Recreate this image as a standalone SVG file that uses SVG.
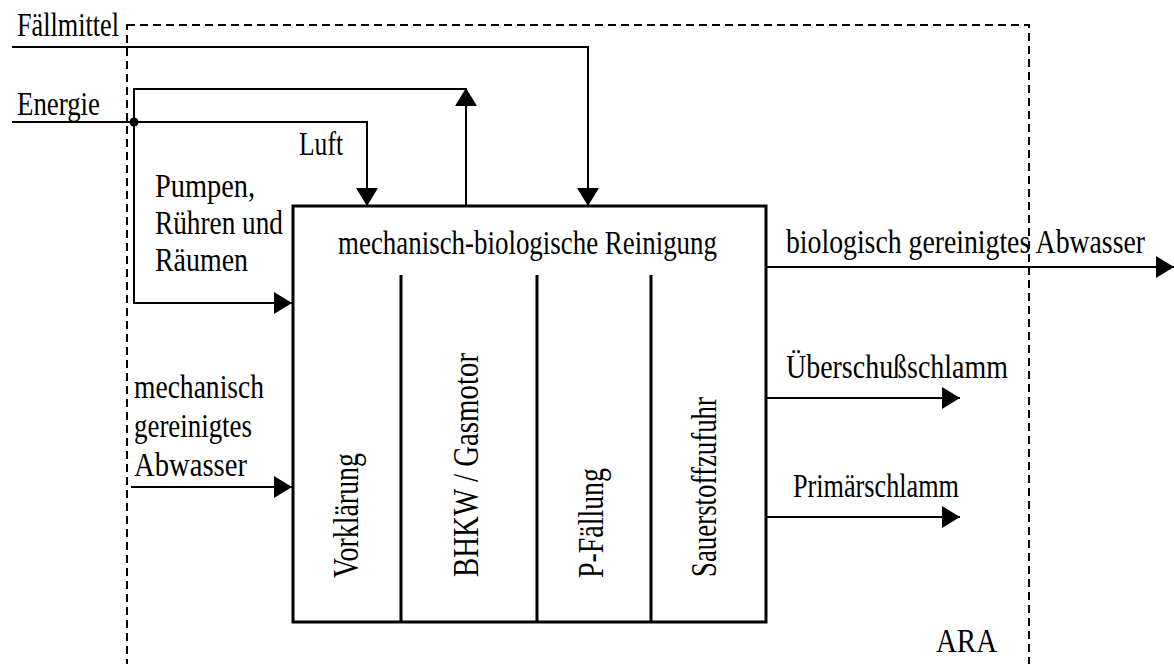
<svg xmlns="http://www.w3.org/2000/svg" width="1174" height="664" viewBox="0 0 1174 664">
  <style>
    text { font-family: "Liberation Serif", "DejaVu Serif", serif; fill: #000; }
    .lbl { font-size: 33px; }
    .vlbl { font-size: 35px; }
    .wire { fill: none; stroke: #000; stroke-width: 2; }
    .flow { fill: none; stroke: #000; stroke-width: 2; marker-end: url(#arrow); }
    .frame { fill: none; stroke: #000; stroke-width: 2; stroke-dasharray: 8 5; }
    .box { fill: #fff; stroke: #000; stroke-width: 3; }
    .div { stroke: #000; stroke-width: 3; }
  </style>
  <defs>
    <marker id="arrow" markerUnits="userSpaceOnUse" markerWidth="20" markerHeight="22" refX="18" refY="11" orient="auto">
      <path d="M0,0 L18,11 L0,22 Z" fill="#000"/>
    </marker>
  </defs>
  <rect width="1174" height="664" fill="#fff"/>

  <!-- system boundary ARA -->
  <g id="ara" font-family="Liberation Serif, serif">
    <rect class="frame" x="127" y="25" width="902" height="680"/>
    <text class="lbl" x="936" y="652" textLength="61" lengthAdjust="spacingAndGlyphs">ARA</text>
  </g>

  <!-- main treatment block -->
  <g id="reinigung" font-family="Liberation Serif, serif">
    <rect class="box" x="293" y="206" width="473" height="416"/>
    <text class="lbl" x="338" y="254" textLength="379" lengthAdjust="spacingAndGlyphs">mechanisch-biologische Reinigung</text>
    <line class="div" x1="401" y1="275" x2="401" y2="622"/>
    <line class="div" x1="537" y1="275" x2="537" y2="622"/>
    <line class="div" x1="651" y1="275" x2="651" y2="622"/>
  </g>
  <g id="vorklaerung" font-family="Liberation Serif, serif">
    <text class="vlbl" transform="translate(358,578) rotate(-90)" textLength="125" lengthAdjust="spacingAndGlyphs">Vorklärung</text>
  </g>
  <g id="bhkw" font-family="Liberation Serif, serif">
    <text class="vlbl" transform="translate(478,577) rotate(-90)" textLength="224" lengthAdjust="spacingAndGlyphs">BHKW / Gasmotor</text>
  </g>
  <g id="pfaellung" font-family="Liberation Serif, serif">
    <text class="vlbl" transform="translate(603,578) rotate(-90)" textLength="110" lengthAdjust="spacingAndGlyphs">P-Fällung</text>
  </g>
  <g id="sauerstoff" font-family="Liberation Serif, serif">
    <text class="vlbl" transform="translate(716,577) rotate(-90)" textLength="180" lengthAdjust="spacingAndGlyphs">Sauerstoffzufuhr</text>
  </g>

  <!-- connectors -->
  <g id="connectors">
    <path class="flow" d="M12,47 H588 V206"/>
    <path class="flow" d="M12,122 H367 V206"/>
    <path class="wire" d="M134,122 V89 H466"/>
    <path class="flow" d="M466,206 V88"/>
    <path class="flow" d="M134,122 V303 H292"/>
    <circle cx="134" cy="122" r="4.5" fill="#000"/>
    <path class="flow" d="M131,487 H292"/>
    <path class="flow" d="M767,267 H1174"/>
    <path class="flow" d="M767,398 H960"/>
    <path class="flow" d="M767,517 H960"/>
  </g>

  <!-- flow labels -->
  <g id="labels" font-family="Liberation Serif, serif">
    <text class="lbl" x="17" y="36" textLength="102" lengthAdjust="spacingAndGlyphs">Fällmittel</text>
    <text class="lbl" x="17" y="115" textLength="83" lengthAdjust="spacingAndGlyphs">Energie</text>
    <text class="lbl" x="299" y="155" textLength="44" lengthAdjust="spacingAndGlyphs">Luft</text>
    <text class="lbl" x="155" y="197" textLength="100" lengthAdjust="spacingAndGlyphs">Pumpen,</text>
    <text class="lbl" x="155" y="234" textLength="128" lengthAdjust="spacingAndGlyphs">Rühren und</text>
    <text class="lbl" x="155" y="271" textLength="93" lengthAdjust="spacingAndGlyphs">Räumen</text>
    <text class="lbl" x="134" y="398" textLength="130" lengthAdjust="spacingAndGlyphs">mechanisch</text>
    <text class="lbl" x="134" y="437" textLength="118" lengthAdjust="spacingAndGlyphs">gereinigtes</text>
    <text class="lbl" x="134" y="476" textLength="113" lengthAdjust="spacingAndGlyphs">Abwasser</text>
    <text class="lbl" x="786" y="253" textLength="359" lengthAdjust="spacingAndGlyphs">biologisch gereinigtes Abwasser</text>
    <text class="lbl" x="786" y="378" textLength="222" lengthAdjust="spacingAndGlyphs">Überschußschlamm</text>
    <text class="lbl" x="793" y="497" textLength="166" lengthAdjust="spacingAndGlyphs">Primärschlamm</text>
  </g>
</svg>
